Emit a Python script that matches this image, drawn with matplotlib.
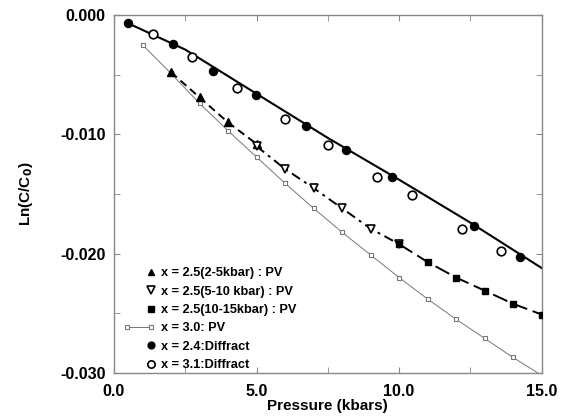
import numpy as np
import matplotlib.pyplot as plt
from matplotlib.legend_handler import HandlerLine2D
from matplotlib.ticker import MultipleLocator, FormatStrFormatter

# x = 2.5 PV, three pressure ranges
p_up = [2, 3, 4, 5]
y_up = [-0.0048, -0.0069, -0.0090, -0.0108]
p_down = [5, 6, 7, 8, 9, 10]
y_down = [-0.0110, -0.0129, -0.0145, -0.0162, -0.0179, -0.0192]
p_sq = [10, 11, 12, 13, 14, 15]
y_sq = [-0.0192, -0.0207, -0.0220, -0.0231, -0.0242, -0.0251]

# x = 3.0 PV
p_30 = [1, 2, 3, 4, 5, 6, 7, 8, 9, 10, 11, 12, 13, 14, 15]
y_30 = [-0.0025, -0.0049, -0.0074, -0.0097, -0.0119, -0.0141, -0.0162,
        -0.0182, -0.0201, -0.0220, -0.0238, -0.0255, -0.0271, -0.0287, -0.0302]

# x = 2.4 diffraction
p_24 = [0.48, 2.07, 3.49, 4.99, 6.74, 8.14, 9.75, 12.62, 14.25]
y_24 = [-0.0007, -0.0024, -0.0047, -0.0067, -0.0093, -0.0113, -0.0136, -0.0177, -0.0203]

# x = 3.1 diffraction
p_31 = [1.38, 2.73, 4.30, 6.01, 7.51, 9.23, 10.46, 12.21, 13.59]
y_31 = [-0.0016, -0.0035, -0.0061, -0.0087, -0.0109, -0.0136, -0.0151, -0.0179, -0.0198]

# fitted curve through the diffraction data
p_fit = [0.5, 2.5, 5.0, 7.5, 10.0, 12.5, 15.0]
y_fit = [-0.0007, -0.0029, -0.0066, -0.0103, -0.0138, -0.0174, -0.0212]

labels = ['x = 2.5(2-5kbar) : PV', 'x = 2.5(5-10 kbar) : PV', 'x = 2.5(10-15kbar) : PV',
          'x = 3.0: PV', 'x = 2.4:Diffract', 'x = 3.1:Diffract']

plt.rcParams['font.family'] = ['Liberation Sans', 'DejaVu Sans']
plt.rcParams['font.weight'] = 'bold'

fig = plt.figure(figsize=(5.74, 4.18), dpi=100)
ax = fig.add_axes([0.1986, 0.1077, 0.745, 0.8564])

ax.plot(p_fit, y_fit, '-', color='black', lw=1.5, zorder=2)
ax.plot(p_30, y_30, '-', color='#777777', lw=0.7, marker='s', ms=3.2,
        mfc='white', mec='#777777', mew=0.8, zorder=2)
ax.plot(p_up, y_up, color='black', lw=1.4, dashes=(4, 2.5), zorder=2)
ax.plot(p_down, y_down, color='black', lw=1.4, dashes=(5, 2.5, 1.5, 2.5), zorder=2)
ax.plot(p_sq, y_sq, color='black', lw=1.4, dashes=(8, 3), zorder=2)

h1, = ax.plot(p_up, y_up, ls='none', marker='^', ms=5.5, color='black', zorder=3)
h2, = ax.plot(p_down, y_down, ls='none', marker='v', ms=6, mfc='white', mec='black', mew=1.2, zorder=3)
h3, = ax.plot(p_sq, y_sq, ls='none', marker='s', ms=5, color='black', zorder=3)
h4, = ax.plot([], [], '-', color='#777777', lw=0.7, marker='s', ms=3.2,
              mfc='white', mec='#777777', mew=0.8)
h5, = ax.plot(p_24, y_24, ls='none', marker='o', ms=5.8, color='black', zorder=3)
h6, = ax.plot(p_31, y_31, ls='none', marker='o', ms=6.2, mfc='white', mec='black', mew=1.2, zorder=3)


class RightMarker(HandlerLine2D):
    def get_xdata(self, legend, xdescent, ydescent, width, height, fontsize):
        x = width - xdescent - self._marker_pad * fontsize
        return [x], [x]


hm = {h: RightMarker() for h in (h1, h2, h3, h5, h6)}
hm[h4] = HandlerLine2D(numpoints=2)
leg = ax.legend([h1, h2, h3, h4, h5, h6], labels, handler_map=hm,
                loc='lower left', bbox_to_anchor=(0.0, -0.02), frameon=False,
                fontsize=9.2, handlelength=2.5, handletextpad=0.45,
                labelspacing=0.5, borderpad=0.2, markerscale=0.85)

ax.set_xlim(0, 15)
ax.set_ylim(-0.030, 0.0)
ax.xaxis.set_major_locator(MultipleLocator(5))
ax.xaxis.set_minor_locator(MultipleLocator(2.5))
ax.yaxis.set_major_locator(MultipleLocator(0.01))
ax.yaxis.set_minor_locator(MultipleLocator(0.005))
ax.xaxis.set_major_formatter(FormatStrFormatter('%.1f'))
ax.yaxis.set_major_formatter(FormatStrFormatter('%.3f'))
ax.tick_params(which='both', direction='in', top=True, right=True, length=4,
               color='#888888', labelsize=11.5, pad=6)
ax.tick_params(axis='x', pad=8)
for s in ax.spines.values():
    s.set_color('#888888')
    s.set_linewidth(1.0)

ax.set_xlabel('Pressure (kbars)', fontsize=11, fontweight='bold', labelpad=0)
ax.set_ylabel('Ln(C/C$_\\mathbf{0}$)', fontsize=11, fontweight='bold', labelpad=18)

fig.savefig('out.png', dpi=100)
